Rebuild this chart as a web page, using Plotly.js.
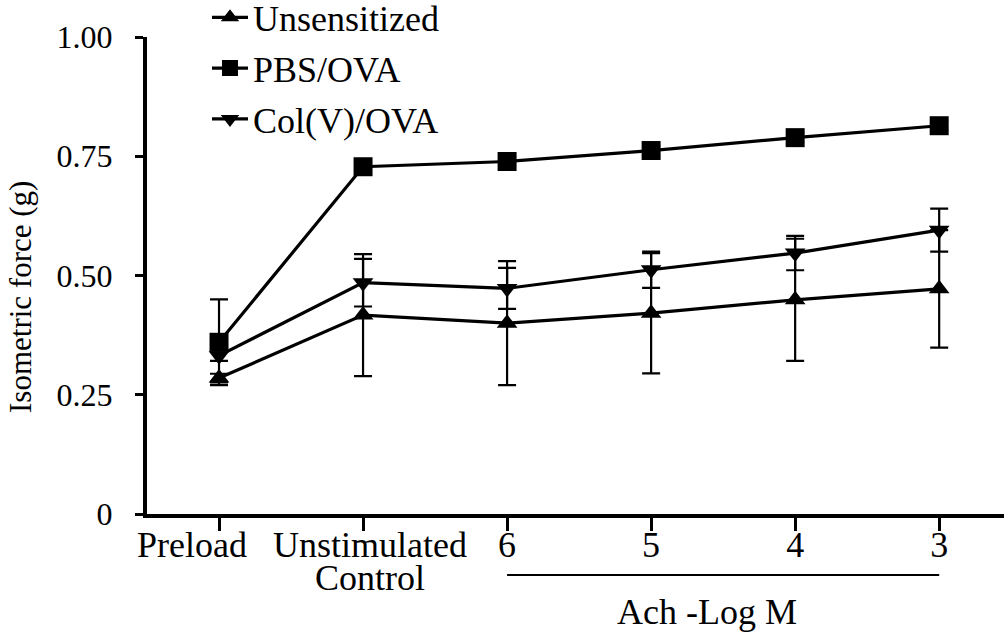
<!DOCTYPE html>
<html>
<head>
<meta charset="utf-8">
<script src="https://cdn.plot.ly/plotly-3.0.1.min.js"></script>
<style>html,body{margin:0;padding:0;background:#fff;}#chart{width:1004px;height:634px;}</style>
</head>
<body>
<div id="chart"></div>
<script>
var categories = ["Preload", "Unstimulated Control", "6", "5", "4", "3"];
var tickLabels = ["", "", "6", "5", "4", "3"];
var offsetLabels = [
  {category: "Preload", lines: ["Preload"], shift: -27},
  {category: "Unstimulated Control", lines: ["Unstimulated", "Control"], shift: 7}
];
var seriesNames = ["Unsensitized", "PBS/OVA", "Col(V)/OVA"];
var unsensitized = [0.285, 0.417, 0.400, 0.421, 0.449, 0.472];
var unsensitizedErr = [0.009, 0.128, 0.130, 0.126, 0.128, 0.123];
var pbsOva = [0.360, 0.728, 0.739, 0.762, 0.789, 0.814];
var pbsOvaErr = [0.090, 0.010, 0.010, 0.010, 0.010, 0.010];
var colvOva = [0.332, 0.485, 0.473, 0.512, 0.547, 0.595];
var colvOvaErr = [0.011, 0.050, 0.043, 0.038, 0.036, 0.045];
var yTickVals = [0, 0.25, 0.5, 0.75, 1.0];
var yTickText = ["0", "0.25", "0.50", "0.75", "1.00"];
var yTitle = "Isometric force (g)";
var achLabel = "Ach -Log M";
var achStart = "6", achEnd = "3";

var FONT = "Liberation Serif, Times New Roman, serif";
function mk(name, y, err, symbol, size, group) {
  return {
    type: "scatter", mode: "lines+markers", name: name, x: categories, y: y,
    legendgroup: group,
    line: {color: "#000", width: 3.2},
    marker: {symbol: symbol, size: size, color: "#000"},
    error_y: {type: "data", array: err, visible: true, color: "#000", thickness: 2.2, width: 9}
  };
}
var data = [
  mk(seriesNames[0], unsensitized, unsensitizedErr, "triangle-up", 18, "a"),
  mk(seriesNames[1], pbsOva, pbsOvaErr, "square", 19, "b"),
  mk(seriesNames[2], colvOva, colvOvaErr, "triangle-down", 18, "c")
];

var annotations = [
  {text: achLabel, xref: "x", yref: "paper", x: 3.39, y: -0.2516, yanchor: "bottom",
   showarrow: false, font: {family: FONT, size: 36, color: "#000"}},
  {text: yTitle, xref: "paper", yref: "paper", x: -0.147, xanchor: "center", y: 0.455,
   yanchor: "middle", textangle: -90, showarrow: false,
   font: {family: FONT, size: 31, color: "#000"}}
];
var lineYs = [-0.065, -0.135];
offsetLabels.forEach(function (o) {
  o.lines.forEach(function (t, i) {
    annotations.push({text: t, xref: "x", yref: "paper", x: categories.indexOf(o.category),
      xshift: o.shift, y: lineYs[i], yanchor: "middle", showarrow: false,
      height: 32, valign: "middle", borderpad: 0,
      font: {family: FONT, size: 36, color: "#000"}});
  });
});

var layout = {
  width: 1004, height: 634,
  margin: {l: 147, r: 0, t: 37, b: 120, autoexpand: false},
  paper_bgcolor: "#fff", plot_bgcolor: "#fff",
  font: {family: FONT, color: "#000", size: 32},
  showlegend: true,
  legend: {x: 0.07, xanchor: "left", y: 1.104, yanchor: "top", yref: "paper",
           font: {family: FONT, size: 36, color: "#000"}, tracegroupgap: 1,
           bgcolor: "rgba(0,0,0,0)", itemwidth: 36},
  xaxis: {type: "category", range: [-0.5, 5.45], showgrid: false, zeroline: false,
          showline: true, linecolor: "#000", linewidth: 4, automargin: false,
          ticks: "outside", ticklen: 13, tickwidth: 3, tickcolor: "#000", tickangle: 0,
          tickvals: categories, ticktext: tickLabels, ticklabelstandoff: -17,
          tickfont: {family: FONT, size: 36, color: "#000"}, fixedrange: true},
  yaxis: {range: [0, 1], showgrid: false, zeroline: false, automargin: false,
          showline: true, linecolor: "#000", linewidth: 4,
          ticks: "outside", ticklen: 8, tickwidth: 3, tickcolor: "#000",
          tickvals: yTickVals, ticktext: yTickText, ticklabelstandoff: 16,
          tickfont: {family: FONT, size: 32, color: "#000"}, fixedrange: true},
  shapes: [{type: "line", xref: "x", yref: "paper",
            x0: categories.indexOf(achStart), x1: categories.indexOf(achEnd),
            y0: -0.128, y1: -0.128, line: {color: "#000", width: 2}}],
  annotations: annotations
};
Plotly.newPlot("chart", data, layout, {displayModeBar: false, staticPlot: true});
</script>
</body>
</html>
